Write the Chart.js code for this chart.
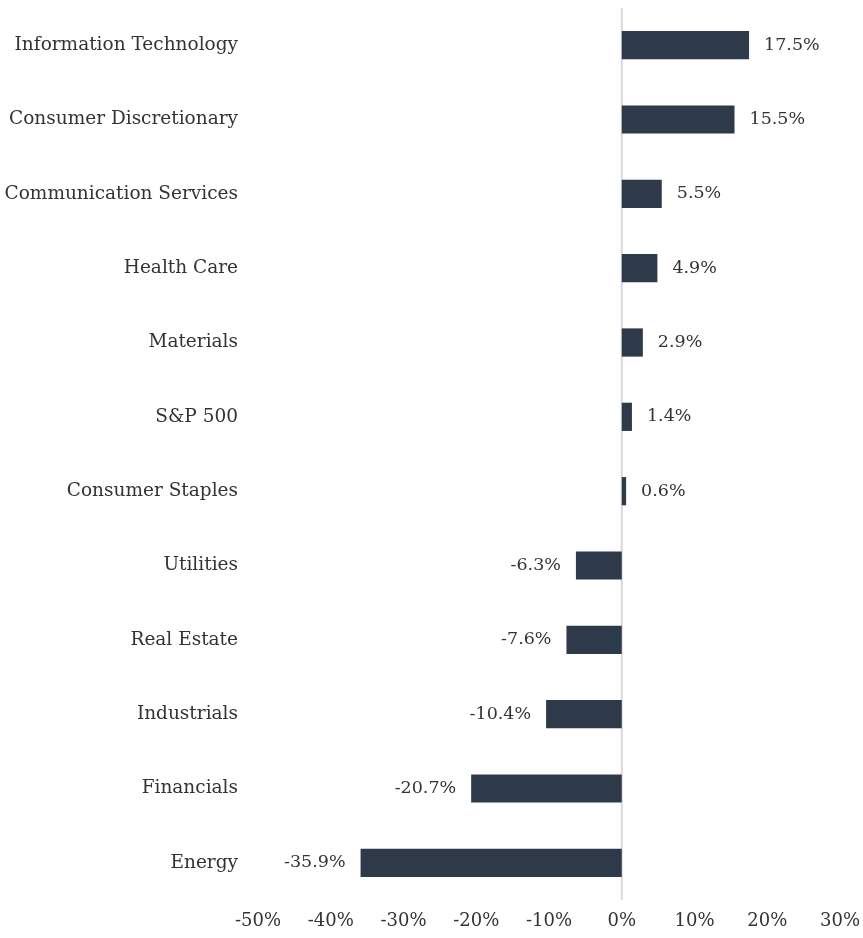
<!DOCTYPE html>
<html>
<head>
<meta charset="utf-8">
<script src="https://cdn.jsdelivr.net/npm/chart.js@4"></script>
<style>
  html, body { margin: 0; padding: 0; background: #fff; }
  #wrap { width: 863px; height: 938px; }
</style>
</head>
<body>
<div id="wrap"><canvas id="sectorChart"></canvas></div>
<script>
const sectors = ['Information Technology', 'Consumer Discretionary', 'Communication Services',
  'Health Care', 'Materials', 'S&P 500', 'Consumer Staples', 'Utilities', 'Real Estate',
  'Industrials', 'Financials', 'Energy'];
const returns = [17.5, 15.5, 5.5, 4.9, 2.9, 1.4, 0.6, -6.3, -7.6, -10.4, -20.7, -35.9];
const xTicks = [-50, -40, -30, -20, -10, 0, 10, 20, 30];

const FONT = 'DejaVu Serif';
const INK = '#333333';

// value labels next to each bar end
const barLabels = {
  id: 'barLabels',
  afterDatasetsDraw(chart) {
    const ctx = chart.ctx;
    const meta = chart.getDatasetMeta(0);
    ctx.save();
    ctx.font = '17.5px "' + FONT + '"';
    ctx.fillStyle = INK;
    ctx.textBaseline = 'middle';
    meta.data.forEach((bar, i) => {
      const v = returns[i];
      const txt = v.toFixed(1) + '%';
      if (v >= 0) {
        ctx.textAlign = 'left';
        ctx.fillText(txt, bar.x + 15, bar.y);
      } else {
        ctx.textAlign = 'right';
        ctx.fillText(txt, bar.x - 15, bar.y);
      }
    });
    ctx.restore();
  }
};

// light vertical line at zero
const zeroLine = {
  id: 'zeroLine',
  beforeDatasetsDraw(chart) {
    const { ctx, chartArea, scales } = chart;
    const x0 = scales.x.getPixelForValue(0);
    ctx.save();
    ctx.strokeStyle = '#d9d9d9';
    ctx.lineWidth = 2;
    ctx.beginPath();
    ctx.moveTo(x0, chartArea.top);
    ctx.lineTo(x0, chartArea.bottom);
    ctx.stroke();
    ctx.restore();
  }
};

new Chart(document.getElementById('sectorChart'), {
  type: 'bar',
  data: {
    labels: sectors,
    datasets: [{
      data: returns,
      backgroundColor: '#2e3a4a',
      categoryPercentage: 1,
      barPercentage: 0.38
    }]
  },
  options: {
    indexAxis: 'y',
    responsive: true,
    maintainAspectRatio: false,
    animation: false,
    layout: { padding: { top: 8, right: 0, left: 0, bottom: 0 } },
    plugins: { legend: { display: false }, tooltip: { enabled: false } },
    scales: {
      x: {
        min: -50, max: 30,
        afterBuildTicks: s => { s.ticks = xTicks.map(v => ({ value: v })); },
        afterFit: s => { s.height = 38; s.paddingRight = 23; s.paddingLeft = 0; },
        grid: { display: false, drawTicks: false },
        border: { display: false },
        ticks: {
          color: INK, padding: 11,
          font: { family: FONT, size: 18 },
          maxRotation: 0,
          callback: v => v + '%'
        }
      },
      y: {
        afterFit: s => { s.width = 258; s.paddingTop = 0; s.paddingBottom = 0; },
        grid: { display: false, drawTicks: false },
        border: { display: false },
        ticks: { color: INK, padding: 20, font: { family: FONT, size: 18.5 } }
      }
    }
  },
  plugins: [zeroLine, barLabels]
});
</script>
</body>
</html>
